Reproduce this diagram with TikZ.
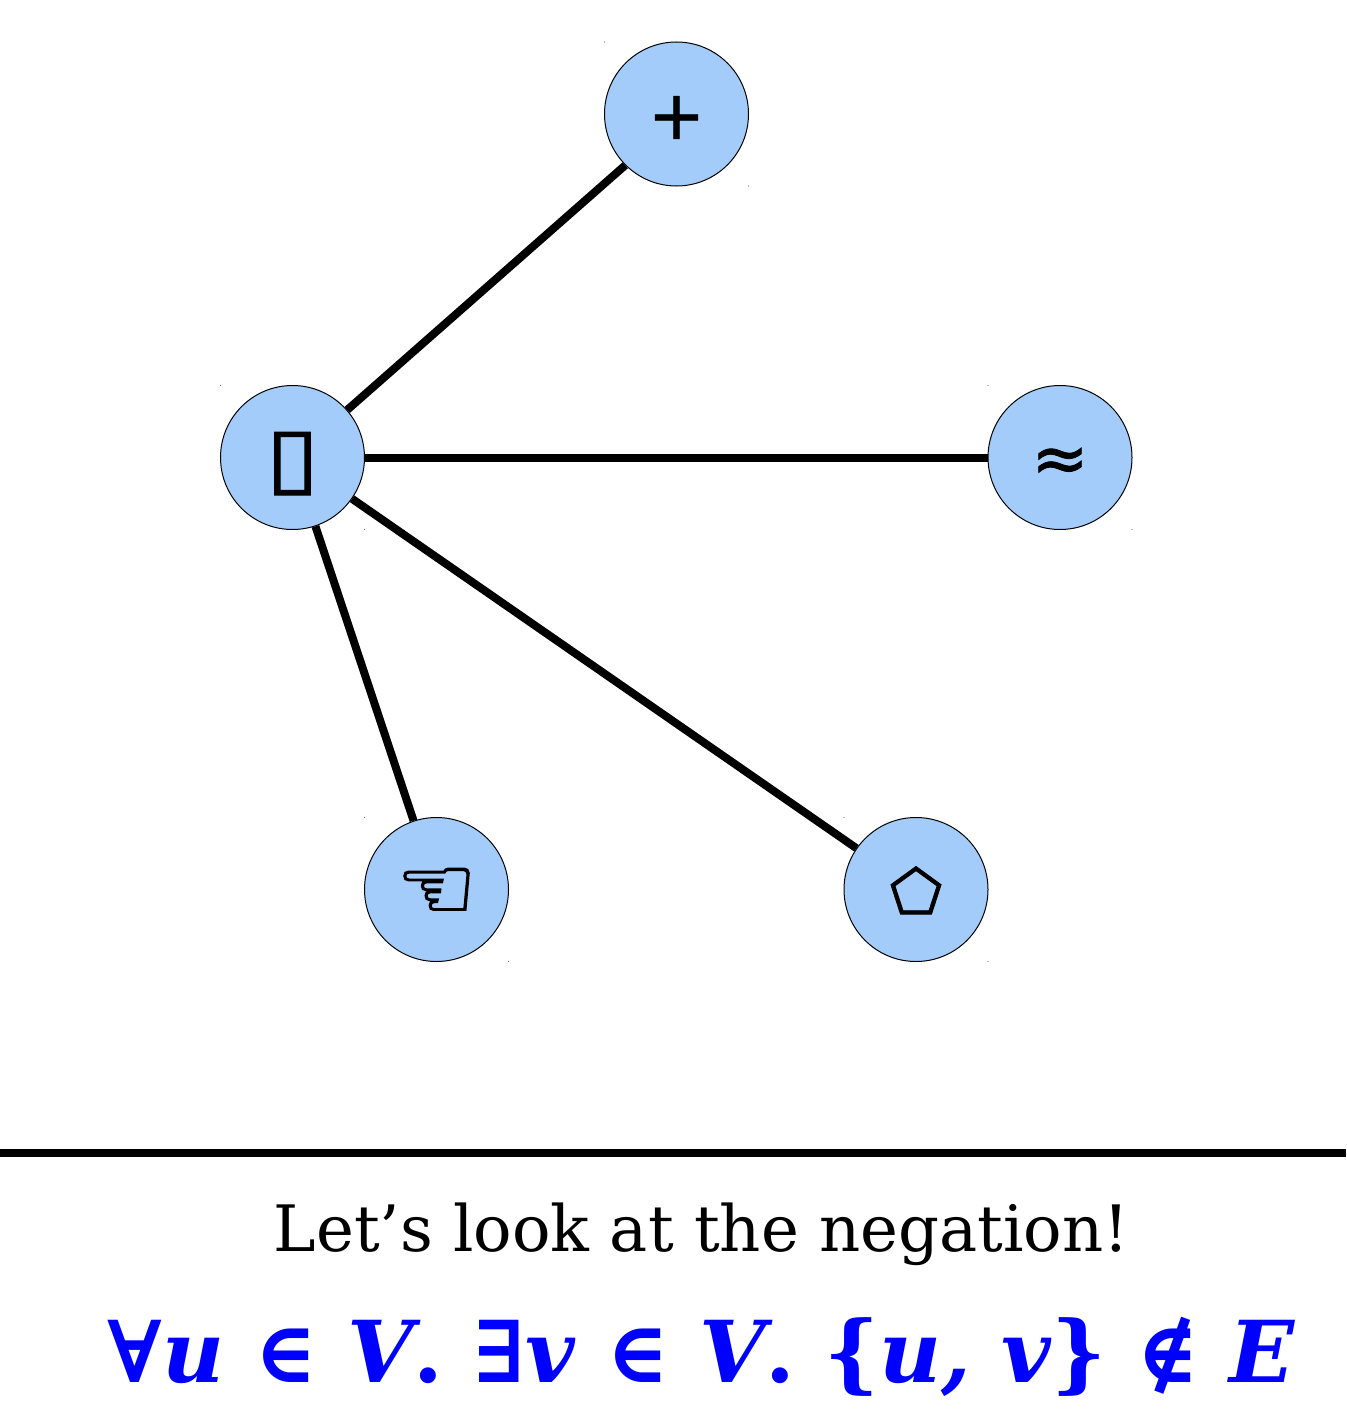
\documentclass[tikz,border=0pt]{standalone}
\usepackage{fontspec}
\setmainfont{DejaVu Serif}
\newfontfamily\symfont[FakeBold=1.2]{DejaVu Sans}
\newfontfamily\symbold[FakeBold=1.6]{DejaVu Sans}
\definecolor{nodeblue}{HTML}{A4CCFB}
\newcommand{\glyphat}[2]{\raisebox{#1}[0pt][0pt]{#2}}
\newcommand{\fm}[1]{\textit{#1}}
\tikzset{
  px/.style={x=0.5pt,y=-0.5pt},
  vertex/.style={circle,draw=black,line width=0.5pt,fill=nodeblue,minimum size=72pt,inner sep=0pt,text=black},
  edge/.style={line width=4pt,black},
  sym/.style={font=\symfont\fontsize{34}{34}\selectfont},
  label/.style={anchor=base,inner sep=0pt}
}
\begin{document}
\begin{tikzpicture}[px]
\useasboundingbox (0,0) rectangle (1346,1418);
\node[vertex,sym] (plus) at (676.5,114) {\glyphat{-12.4pt}{+}};
\node[vertex,font=\symfont\fontsize{32}{32}\selectfont] (hub) at (292.5,457.5) {\glyphat{-13.75pt}{\scalebox{1.5}[1.29]{▯}}};
\node[vertex,sym] (approx) at (1060,457.5) {\glyphat{-12pt}{≈}};
\node[vertex,font=\symbold\fontsize{45}{45}\selectfont] (hand) at (436.5,889.5) {\glyphat{-15pt}{☜}};
\node[vertex,font=\symbold\fontsize{30}{30}\selectfont] (pent) at (916,889.5) {\glyphat{-11.5pt}{⬠}};
\foreach \n in {plus,hub,approx,hand,pent}{
  \fill[black!55] ([shift={(-72,-72)}]\n.center) circle (0.3pt);
  \fill[black!55] ([shift={(72,72)}]\n.center) circle (0.3pt);
}
\draw[edge] (hub.41.1) -- (plus.225.7);
\draw[edge] (hub) -- (approx);
\draw[edge] (hub) -- (hand);
\draw[edge] (hub) -- (pent);
\coordinate (ruleL) at (0,1153);
\coordinate (ruleR) at (1346,1153);
\draw[edge] (ruleL) -- (ruleR);
\node[label,font=\fontsize{32}{32}\selectfont] (neg) at (701.5,1251) {Let’s look at the negation!};
\node[label,text=blue,font=\bfseries\fontsize{42.7}{42.7}\selectfont] (formula) at (701.5,1382.5) {∀\fm{u} ∈ \fm{V}. ∃\fm{v} ∈ \fm{V}. \{\fm{u, v}\} ∉ \fm{E}};
\end{tikzpicture}
\end{document}
